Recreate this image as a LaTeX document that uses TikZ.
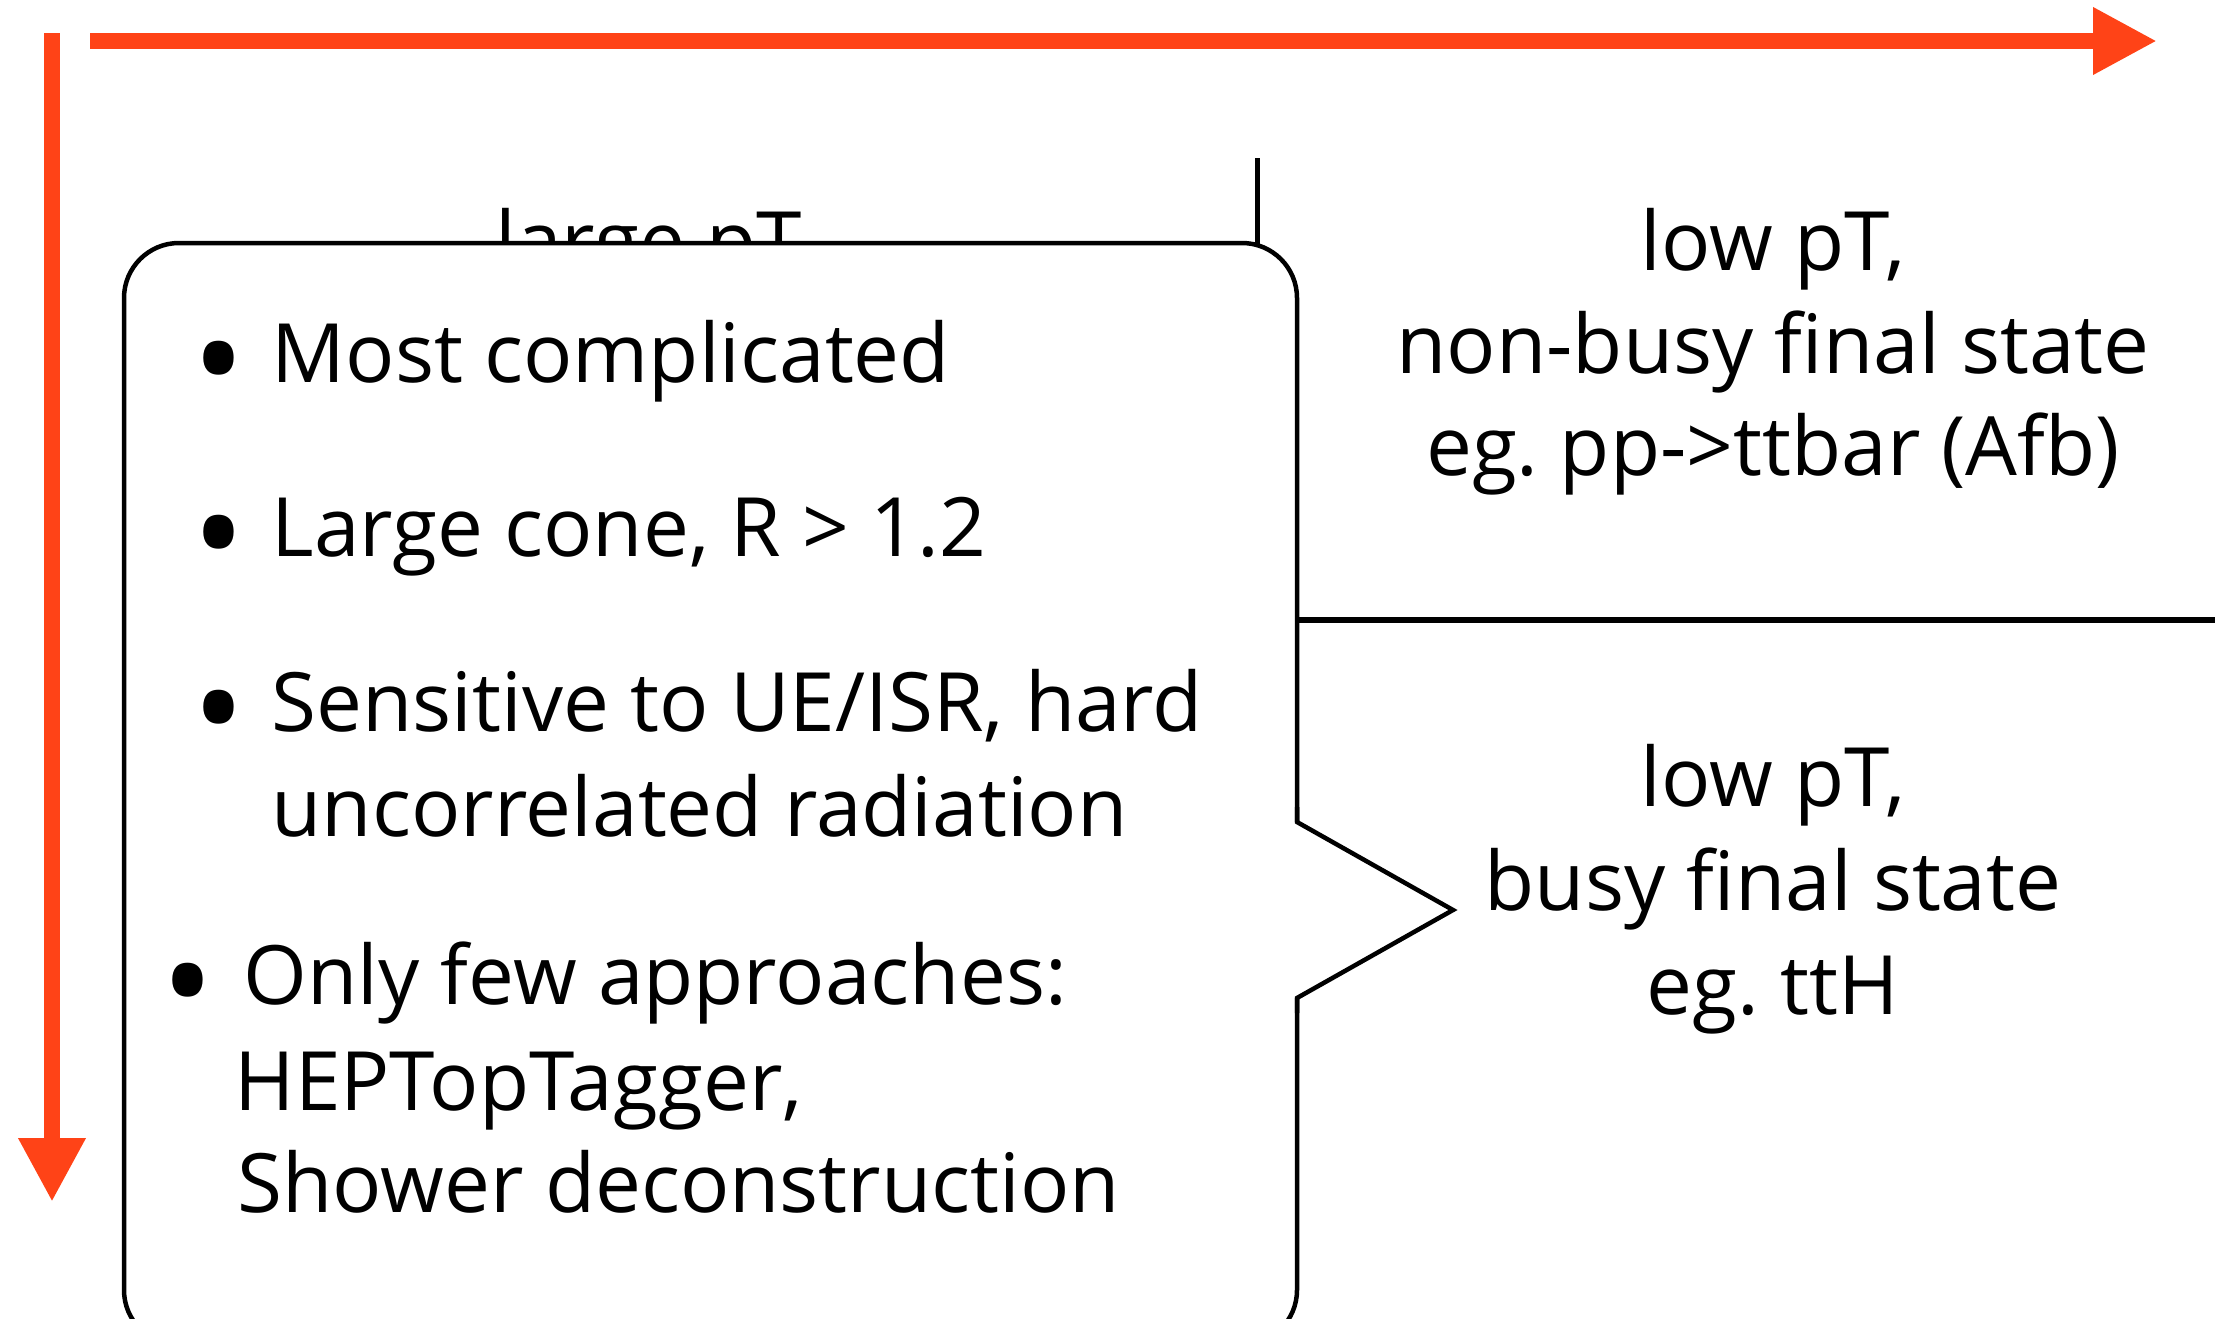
\documentclass[tikz,border=0pt]{standalone}
\usepackage{fontspec}
\setmainfont{Open Sans}
\usetikzlibrary{arrows.meta}
\definecolor{axisred}{RGB}{255,67,23}
\frenchspacing
\tikzset{
  axis/.style={draw=axisred, line width=1.6mm, -{Triangle[length=6.4mm,width=6.3mm]}},
  divider/.style={draw=black, line width=0.5mm},
  calloutbox/.style={draw=black, fill=white, line width=0.45mm},
  txt/.style={inner sep=0pt, font=\fontsize{23.3}{29.6}\selectfont},
  bul/.style={inner sep=0pt, font=\fontsize{40}{40}\selectfont},
}
\begin{document}
\begin{tikzpicture}[x=0.1mm,y=-0.1mm]
\useasboundingbox (0,0) rectangle (2215,1318);

% axes
\coordinate (xstart) at (90,41);
\coordinate (xend) at (2157,41);
\coordinate (ystart) at (52,33);
\coordinate (yend) at (52,1202);
\draw[axis] (xstart) -- (xend);
\draw[axis] (ystart) -- (yend);

% dividers between the regions
\coordinate (vtop) at (1257,158);
\coordinate (vbot) at (1257,620);
\coordinate (hleft) at (1297,620);
\coordinate (hright) at (2215,620);
\draw[divider] (vtop) -- (vbot);
\draw[divider, line width=0.6mm] (hleft) -- (hright);

% heading of the upper-left region (mostly covered by the callout)
\node[txt, anchor=base west] (largept) at (495,270) {large pT};

% callout box with its pointer
\coordinate (boxnw) at (124,243);
\coordinate (boxse) at (1297,1345);
\coordinate (ptrtop) at (1297,822);
\coordinate (ptrtip) at (1453,910);
\coordinate (ptrbot) at (1297,998);
\draw[calloutbox, rounded corners=5.5mm] (boxnw) rectangle (boxse);
\fill[white] (1292,822) rectangle (1303,998);
\draw[draw=black, line width=0.45mm, line join=miter]
  ([yshift=1.5mm]ptrtop) -- (ptrtop) -- (ptrtip) -- (ptrbot) -- ([yshift=-1.5mm]ptrbot);

% callout contents
\node[bul] (b1) at (219,375) {•};
\node[txt, anchor=base west] (t1) at (271,382) {Most complicated};
\node[bul] (b2) at (219,549) {•};
\node[txt, anchor=base west] (t2) at (271,556) {Large cone, R > 1.2};
\node[bul] (b3) at (219,724) {•};
\node[txt, anchor=base west] (t3a) at (271,731) {Sensitive to UE/ISR, hard};
\node[txt, anchor=base west] (t3b) at (271,836) {uncorrelated radiation};
\node[bul] (b4) at (188,997) {•};
\node[txt, anchor=base west] (t4a) at (243,1004) {Only few approaches:};
\node[txt, anchor=base west] (t4b) at (234,1110) {HEPTopTagger,};
\node[txt, anchor=base west] (t4c) at (237,1212) {Shower deconstruction};

% upper-right region
\node[txt, anchor=base] (ur1) at (1773,270) {low pT,};
\node[txt, anchor=base] (ur2) at (1773,373) {non-busy final state};
\node[txt, anchor=base] (ur3) at (1773,475) {eg. pp->ttbar (Afb)};

% lower-right region
\node[txt, anchor=base] (lr1) at (1773,806) {low pT,};
\node[txt, anchor=base] (lr2) at (1773,910) {busy final state};
\node[txt, anchor=base] (lr3) at (1773,1014) {eg. ttH};
\end{tikzpicture}
\end{document}
